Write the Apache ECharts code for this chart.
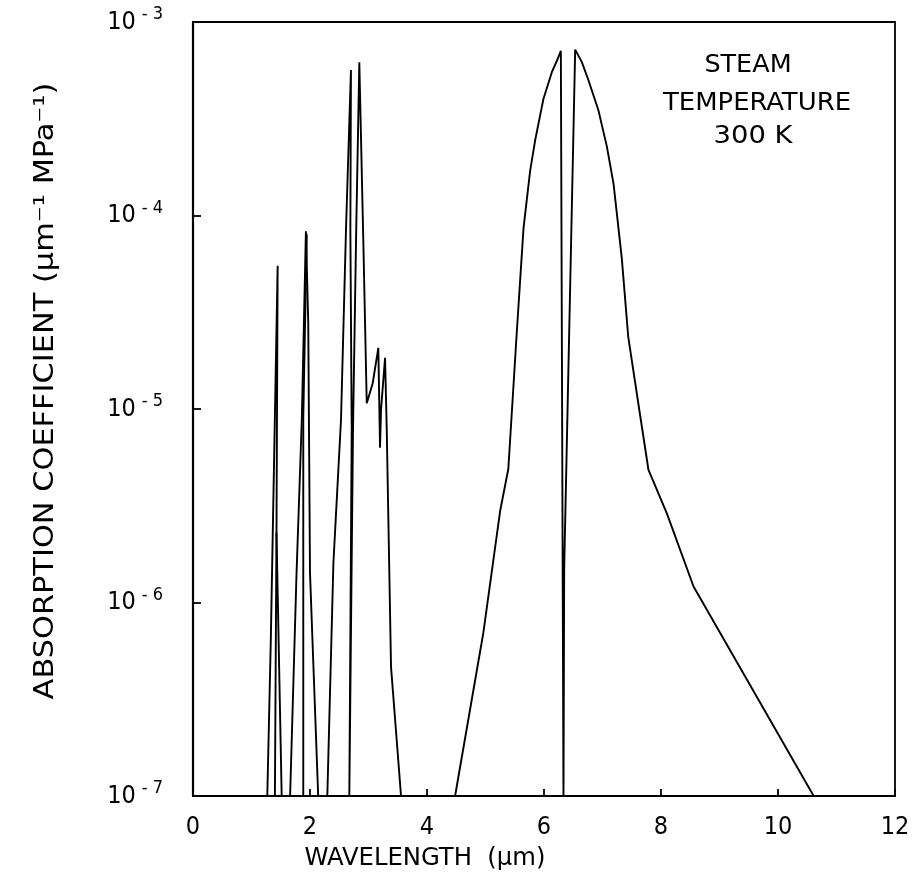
<!DOCTYPE html>
<html>
<head>
<meta charset="utf-8">
<script src="https://cdn.jsdelivr.net/npm/echarts@6/dist/echarts.min.js"></script>
<style>
html,body{margin:0;padding:0;background:#fff;}
#chart{width:921px;height:881px;}
</style>
</head>
<body>
<div id="chart"></div>
<script>
// x tick labels (µm)
const xTicks = [0, 2, 4, 6, 8, 10, 12];
// y tick exponents (powers of ten)
const yExponents = [-7, -6, -5, -4, -3];

// Band near 1.38 µm
const band138 = [[1.27,1e-7],[1.33,6.4e-7],[1.447,5.5e-5],[1.427,2.3e-6],[1.40,1e-7]];
const band138b = [[1.427,2.3e-6],[1.516,1e-7]];
// Band near 1.87 µm
const band187 = [[1.66,1e-7],[1.77,1.42e-6],[1.86,8.8e-6],[1.93,8.3e-5],[1.97,2.8e-5],[2.00,1.42e-6],[2.14,1e-7]];
const band187b = [[1.885,1e-7],[1.885,9e-6],[1.945,8.0e-5]];
// Band near 2.7 µm
const band27 = [[2.296,1e-7],[2.40,1.6e-6],[2.53,8.8e-6],[2.615,8.4e-5],[2.70,5.65e-4],[2.69,8.4e-5],[2.713,7.8e-6],[2.672,1e-7],
  [2.735,7.8e-6],[2.787,7.5e-5],[2.843,6.2e-4],[2.911,7.5e-5],[2.97,1.07e-5],[3.072,1.36e-5],[3.168,2.07e-5],[3.197,6.3e-6],
  [3.214,9.9e-6],[3.283,1.84e-5],[3.312,7.8e-6],[3.385,4.65e-7],[3.556,1e-7]];
// Band near 6.3 µm
const band63 = [[4.48,1e-7],[4.964,7.0e-7],[5.25,2.97e-6],[5.39,4.9e-6],[5.535,2.5e-5],[5.65,8.6e-5],[5.763,1.7e-4],[5.85,2.46e-4],
  [5.99,4.0e-4],[6.134,5.5e-4],[6.23,6.4e-4],[6.288,7.1e-4],[6.333,1e-7],[6.345,1.5e-6],[6.533,7.2e-4],[6.647,6.2e-4],[6.76,5.0e-4],
  [6.93,3.5e-4],[7.075,2.27e-4],[7.19,1.45e-4],[7.33,6.0e-5],[7.44,2.36e-5],[7.645,9.2e-6],[7.786,4.84e-6],[8.10,2.89e-6],
  [8.556,1.21e-6],[10.61,1e-7]];

const strokes = [band138, band138b, band187, band187b, band27, band63];

const FONT = '"DejaVu Sans Condensed", "DejaVu Sans", sans-serif';

const chart = echarts.init(document.getElementById('chart'), null, {renderer:'canvas'});
chart.setOption({
  backgroundColor: '#fff',
  animation: false,
  grid: {left: 193, right: 26, top: 22, bottom: 85, show: true, borderColor: '#000', borderWidth: 1.8, backgroundColor: 'transparent'},
  xAxis: {
    type: 'value', min: xTicks[0], max: xTicks[xTicks.length-1], interval: 2,
    axisLine: {show: true, lineStyle: {color: '#000', width: 1.8}},
    axisTick: {show: true, inside: true, length: 7, lineStyle: {color: '#000', width: 1.8}},
    axisLabel: {color: '#000', fontFamily: FONT, fontSize: 25, margin: 19},
    splitLine: {show: false}
  },
  yAxis: {
    type: 'log', logBase: 10, min: Math.pow(10, yExponents[0]), max: Math.pow(10, yExponents[yExponents.length-1]),
    axisLine: {show: true, lineStyle: {color: '#000', width: 2.2}},
    axisTick: {show: true, inside: true, length: 8, lineStyle: {color: '#000', width: 1.8}},
    axisLabel: {
      color: '#000', margin: 30,
      formatter: function (v) {
        const e = Math.round(Math.log10(v));
        return '{b|10}{m|-}{d|' + Math.abs(e) + '}';
      },
      rich: {
        b: {fontFamily: FONT, fontSize: 25, color: '#000'},
        m: {fontFamily: FONT, fontSize: 18, color: '#000', verticalAlign: 'top', padding: [0, 0, 15, 6]},
        d: {fontFamily: FONT, fontSize: 18, color: '#000', verticalAlign: 'top', padding: [0, 0, 15, 5]}
      }
    },
    splitLine: {show: false},
    minorTick: {show: false}
  },
  graphic: [
    {type: 'text', x: 425, y: 858, scaleX: 1.08, style: {text: 'WAVELENGTH  (µm)', fontFamily: FONT, fontSize: 25, fill: '#000', align: 'center', verticalAlign: 'middle'}},
    {type: 'text', x: 46, y: 391, rotation: Math.PI/2, scaleX: 1.3, style: {text: 'ABSORPTION COEFFICIENT (µm⁻¹ MPa⁻¹)', fontFamily: FONT, fontSize: 26, fill: '#000', align: 'center', verticalAlign: 'middle'}},
    {type: 'text', x: 748, y: 66, scaleX: 1.18, style: {text: 'STEAM', fontFamily: FONT, fontSize: 24, fill: '#000', align: 'center', verticalAlign: 'middle'}},
    {type: 'text', x: 757, y: 104, scaleX: 1.2, style: {text: 'TEMPERATURE', fontFamily: FONT, fontSize: 24, fill: '#000', align: 'center', verticalAlign: 'middle'}},
    {type: 'text', x: 753, y: 137, scaleX: 1.27, style: {text: '300 K', fontFamily: FONT, fontSize: 24, fill: '#000', align: 'center', verticalAlign: 'middle'}}
  ],
  series: strokes.map((d, i) => ({
    type: 'line', name: 's' + i, data: d, showSymbol: false, symbol: 'none',
    lineStyle: {color: '#000', width: 1.9}, z: 3, clip: true
  }))
});
</script>
</body>
</html>
